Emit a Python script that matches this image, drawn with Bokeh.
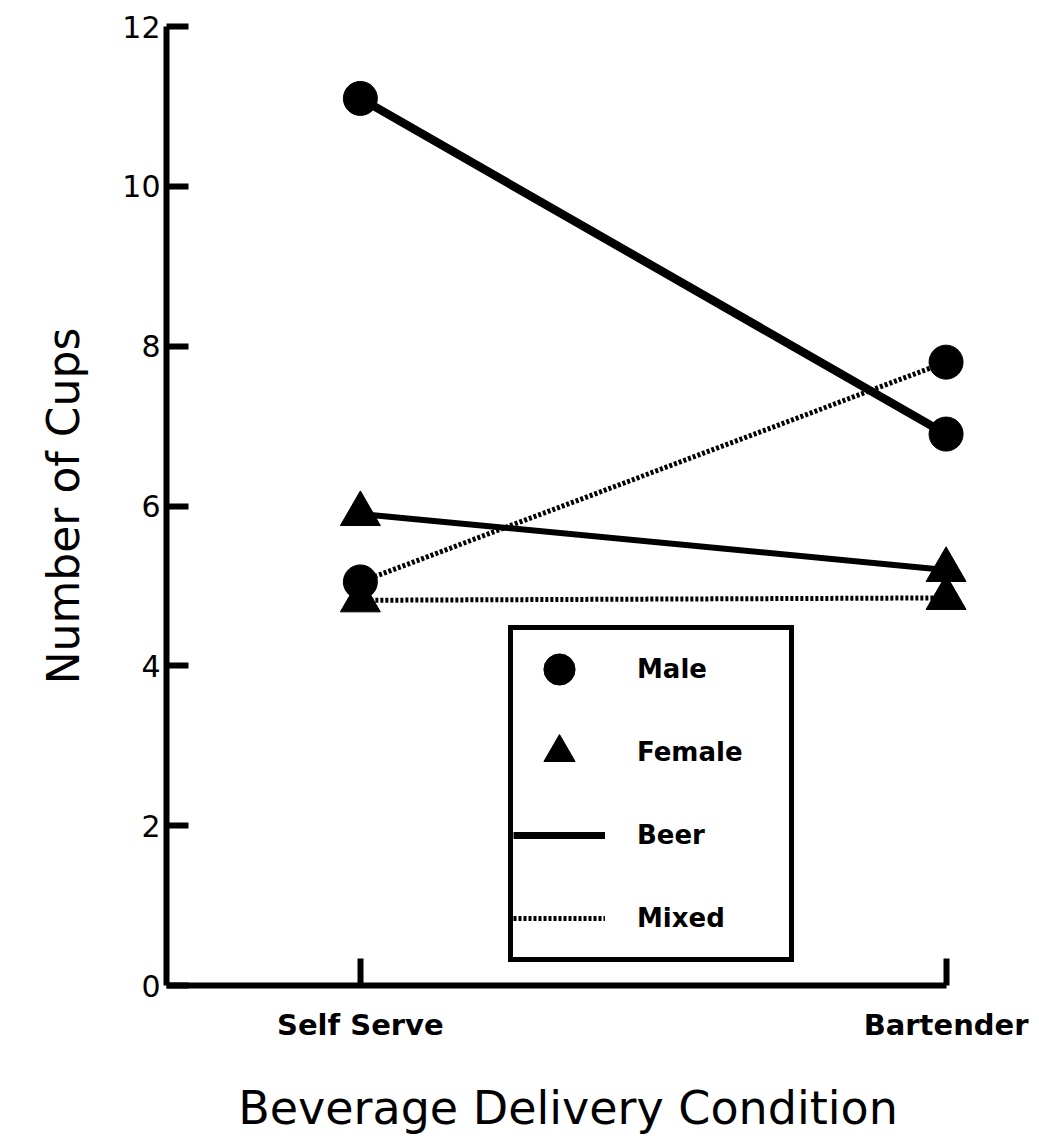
from bokeh.plotting import figure
from bokeh.models import FixedTicker, Legend, LegendItem, Range1d
from bokeh.embed import file_html
from bokeh.resources import INLINE

# ---- data ----
conditions = ["Self Serve", "Bartender"]
cond_pos = [1, 2]
male_beer = [11.1, 6.9]
male_mixed = [5.05, 7.8]
female_beer = [5.9, 5.2]
female_mixed = [4.82, 4.85]
y_ticks = [0, 2, 4, 6, 8, 10, 12]

FONT = "DejaVu Sans"
NAN = float("nan")

p = figure(width=1031, height=1138, output_backend="svg", toolbar_location=None,
           x_range=Range1d(0.669, 2.04), y_range=Range1d(0, 12),
           min_border_left=166, min_border_right=62, min_border_top=26, min_border_bottom=153)
p.outline_line_color = None
p.xgrid.visible = False
p.ygrid.visible = False
p.background_fill_color = "white"
p.border_fill_color = "white"

# lines
p.line(cond_pos, male_beer, line_color="black", line_width=8.5, line_cap="round")
p.line(cond_pos, female_beer, line_color="black", line_width=6, line_cap="round")
p.line(cond_pos, male_mixed, line_color="black", line_width=5, line_dash="3 2")
p.line(cond_pos, female_mixed, line_color="black", line_width=5, line_dash="3 2")

# markers
p.scatter(cond_pos, female_mixed, marker="triangle", size=40, color="black")
p.scatter(cond_pos, female_beer, marker="triangle", size=40, color="black")
p.scatter(cond_pos, male_beer, marker="circle", size=34, color="black")
p.scatter(cond_pos, male_mixed, marker="circle", size=34, color="black")

# legend proxies (not visible in the plot area)
lg_m = p.scatter(x=[NAN], y=[NAN], marker="circle", size=32, color="black")
lg_f = p.scatter(x=[NAN], y=[NAN], marker="triangle", size=38, color="black")
lg_b = p.line(x=[NAN, NAN], y=[NAN, NAN], line_color="black", line_width=7)
lg_x = p.line(x=[NAN, NAN], y=[NAN, NAN], line_color="black", line_width=5, line_dash="3 2")

legend = Legend(items=[LegendItem(label="Male", renderers=[lg_m]),
                       LegendItem(label="Female", renderers=[lg_f]),
                       LegendItem(label="Beer", renderers=[lg_b]),
                       LegendItem(label="Mixed", renderers=[lg_x])],
                location=(342, 23), glyph_width=92, glyph_height=78,
                spacing=5, padding=0, margin=0, label_standoff=32, label_width=152,
                label_text_font=FONT, label_text_font_size="26px",
                label_text_font_style="bold", label_text_color="black",
                border_line_color="black", border_line_alpha=1.0, border_line_width=5,
                background_fill_alpha=1.0, background_fill_color="white")
p.add_layout(legend, "center")

# axes
xa = p.xaxis[0]
xa.ticker = FixedTicker(ticks=cond_pos)
xa.major_label_overrides = {1: conditions[0], 2: conditions[1]}
xa.bounds = (0.669, 2)
xa.axis_line_width = 6
xa.axis_line_color = "black"
xa.major_tick_line_width = 6
xa.major_tick_line_color = "black"
xa.major_tick_in = 27
xa.major_tick_out = 0
xa.minor_tick_line_color = None
xa.major_label_standoff = 22
xa.major_label_text_font = FONT
xa.major_label_text_font_size = "29px"
xa.major_label_text_font_style = "bold"
xa.major_label_text_color = "black"
xa.axis_label = "Beverage Delivery Condition"
xa.axis_label_text_font = FONT
xa.axis_label_text_font_size = "46px"
xa.axis_label_text_font_style = "normal"
xa.axis_label_text_color = "black"
xa.axis_label_standoff = 36

ya = p.yaxis[0]
ya.ticker = FixedTicker(ticks=y_ticks)
ya.axis_line_width = 6
ya.axis_line_color = "black"
ya.major_tick_line_width = 6
ya.major_tick_line_color = "black"
ya.major_tick_in = 22
ya.major_tick_out = 0
ya.minor_tick_line_color = None
ya.major_label_standoff = 6
ya.major_label_text_font = FONT
ya.major_label_text_font_size = "30px"
ya.major_label_text_color = "black"
ya.axis_label = "Number of Cups"
ya.axis_label_text_font = FONT
ya.axis_label_text_font_size = "44px"
ya.axis_label_text_font_style = "normal"
ya.axis_label_text_color = "black"
ya.axis_label_standoff = 30

open("out.html", "w").write(file_html(p, INLINE))
